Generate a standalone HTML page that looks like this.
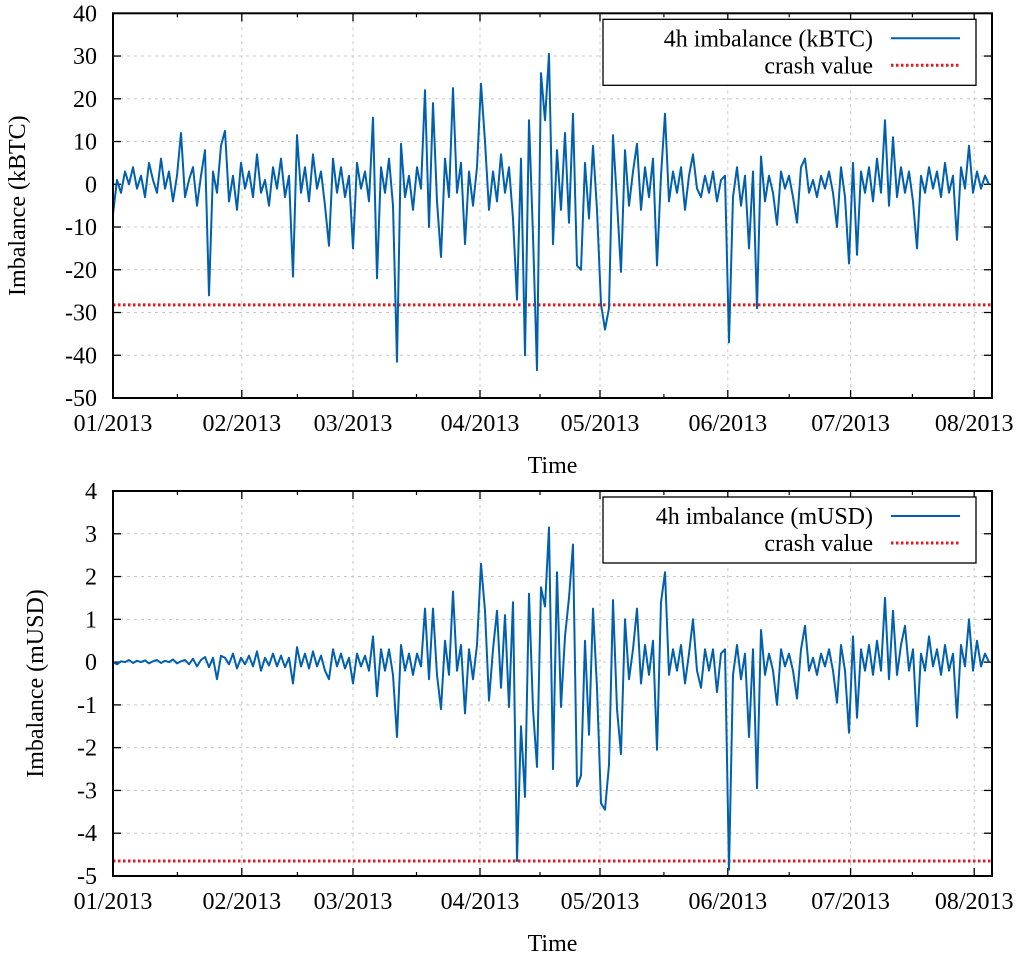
<!DOCTYPE html>
<html><head><meta charset="utf-8">
<style>
html,body{margin:0;padding:0;background:#fff;}
svg{display:block;font-family:"Liberation Serif",serif;}
</style></head>
<body>
<svg id="fig" width="1024" height="956" viewBox="0 0 1024 956" xmlns="http://www.w3.org/2000/svg"></svg>
<script>
// ---- data ----
const tickDays = [0, 32.2, 60, 91.75, 121.75, 153.7, 184.4, 215.3];
const tickLabels = ["01/2013","02/2013","03/2013","04/2013","05/2013","06/2013","07/2013","08/2013"];
const topYTicks = [40,30,20,10,0,-10,-20,-30,-40,-50];
const botYTicks = [4,3,2,1,0,-1,-2,-3,-4,-5];
const crashBTC = -28.2;
const crashUSD = -4.65;
const imbalanceBTC = [
-7,1,-2,3,0,4,-1,2,-3,5,
1,-2,6,-1,3,-4,2,12,-3,1,
4,-5,2,8,-26,3,-2,9,12.5,-4,
2,-6,5,-1,3,-3,7,-2,1,-5,
4,-1,6,-3,2,-21.6,11.5,-2,4,-4,
7,-1,3,-5,-14.4,6,-2,4,-3,2,
-15,5,-1,3,-4,15.6,-22,4,-2,6,
-5,-41.5,9.5,-3,2,-6,4,-1,22,-10,
19,-4,-17,6,-3,22.5,-2,5,-14,3,
-5,4,23.5,10,-6,3,-4,7,-2,4,
-8,-27,6,-40,15,-12,-43.5,26,15,30.5,
-14,8,-6,12,-9,16.5,-19,-20,5,-8,
9,-6,-28,-34,-29,11.5,-4,-20.5,8,-5,
3,9.5,-6,4,-3,6,-19,2,16.5,-4,
3,-2,4,-6,2,7,-1,-3,2,-2,
3,-4,1,2,-37,-3,4,-5,2,-15,
3,-29,6.5,-4,2,-2,-9.5,3,-1,2,
-3,-9,4,6,-2,1,-3,2,-1,3,
-2,-10,4,-3,-18.5,5,-16.5,3,-2,4,
-4,6,-2,15,-5,11,-3,4,-2,3,
-4,-15,2,-2,4,-1,3,-3,5,-2,
2,-13,4,-1,9,-2,3,-1,2,0];
const imbalanceUSD = [
0,-0.05,0.02,0,0.05,-0.02,0.03,0,0.04,-0.03,
0.02,0.05,-0.02,0.03,0,0.06,-0.03,0.02,0.05,-0.05,
0.08,-0.1,0.05,0.12,-0.12,0.1,-0.4,0.15,0.1,-0.05,
0.2,-0.15,0.1,-0.05,0.15,-0.1,0.25,-0.2,0.1,-0.08,
0.2,-0.1,0.15,-0.12,0.1,-0.5,0.35,-0.1,0.2,-0.15,
0.25,-0.1,0.15,-0.2,-0.4,0.3,-0.1,0.2,-0.15,0.1,
-0.5,0.2,-0.1,0.15,-0.2,0.6,-0.8,0.3,-0.2,0.3,
-0.3,-1.75,0.4,-0.2,0.2,-0.3,0.2,-0.1,1.25,-0.4,
1.25,-0.3,-1.1,0.5,-0.3,1.65,-0.2,0.4,-1.2,0.3,
-0.4,0.4,2.3,1.2,-0.9,0.3,1.2,-0.6,1.1,-1.05,
1.4,-4.65,-1.5,-3.15,1.6,-1.1,-2.45,1.75,1.3,3.15,
-2.5,2.1,-1.05,0.6,1.5,2.75,-2.9,-2.65,0.5,-1.7,
1.25,-0.6,-3.3,-3.45,-2.4,1.45,-1.1,-2.15,1.0,-0.4,
0.3,1.25,-0.5,0.4,-0.3,0.5,-2.05,1.4,2.1,-0.3,
0.3,-0.2,0.4,-0.5,0.2,1.0,-0.2,-0.6,0.3,-0.2,
0.3,-0.7,0.2,0.3,-4.85,-0.3,0.4,-0.4,0.2,-1.75,
0.3,-2.95,0.75,-0.3,0.2,-0.2,-1.0,0.3,-0.1,0.2,
-0.2,-0.85,0.3,0.85,-0.2,0.1,-0.3,0.2,-0.1,0.3,
-0.2,-0.95,0.4,-0.2,-1.65,0.6,-1.3,0.3,-0.2,0.4,
-0.3,0.5,-0.2,1.5,-0.4,1.2,-0.3,0.4,0.85,-0.2,
0.3,-1.5,0.2,-0.2,0.6,-0.1,0.3,-0.3,0.4,-0.2,
0.2,-1.3,0.4,-0.1,1.0,-0.2,0.5,-0.1,0.2,0];

const NS = "http://www.w3.org/2000/svg";
const svg = document.getElementById("fig");
function mk(tag, attrs, parent) {
  const e = document.createElementNS(NS, tag);
  for (const k in attrs) e.setAttribute(k, attrs[k]);
  (parent || svg).appendChild(e);
  return e;
}

function drawPanel(p) {
  const g = mk("g", {});
  
  
  const L = 113, R = 992, T = p.top, B = p.bottom;
  const dayMax = 219.75;
  const xs = d => L + (d / dayMax) * (R - L);
  const ys = v => T + (p.ymax - v) / (p.ymax - p.ymin) * (B - T);

  // grid
  p.yTicks.forEach(v => {
    const y = ys(v);
    if (v !== p.ymax && v !== p.ymin) {
      const gl = mk("line", {x1:L, x2:R, y1:y, y2:y, stroke:"#c8c8c8", "stroke-width":1, "stroke-dasharray":"3,4"}, g);
      
      
    }
    const t1 = mk("line", {x1:L, x2:L+8, y1:y, y2:y, stroke:"#000", "stroke-width":1.3}, g);
    
    
    const t2 = mk("line", {x1:R-8, x2:R, y1:y, y2:y, stroke:"#000", "stroke-width":1.3}, g);
    
    
    const lb = mk("text", {x:97, y:y+8, "text-anchor":"end", "font-size":24}, g);
    lb.textContent = String(v);
    
    
  });
  tickDays.forEach((d, i) => {
    const x = xs(d);
    if (i > 0) {
      const gl = mk("line", {x1:x, x2:x, y1:T, y2:B, stroke:"#c8c8c8", "stroke-width":1, "stroke-dasharray":"3,4"}, g);
      
      
    }
    const t1 = mk("line", {x1:x, x2:x, y1:B-8, y2:B, stroke:"#000", "stroke-width":1.3}, g);
    
    
    const t2 = mk("line", {x1:x, x2:x, y1:T, y2:T+8, stroke:"#000", "stroke-width":1.3}, g);
    
    
    if (i < tickDays.length - 1) {
      const xm = xs((d + tickDays[i+1]) / 2);
      const m1 = mk("line", {x1:xm, x2:xm, y1:B-4, y2:B, stroke:"#000", "stroke-width":1.2}, g);
      
      
      const m2 = mk("line", {x1:xm, x2:xm, y1:T, y2:T+4, stroke:"#000", "stroke-width":1.2}, g);
      
      
    }
    const lb = mk("text", {x:x, y:B+33, "text-anchor":"middle", "font-size":24}, g);
    lb.textContent = tickLabels[i];
    
    
  });

  // crash line
  const cl = mk("line", {x1:L, x2:R, y1:ys(p.crash), y2:ys(p.crash), stroke:"#e41a1c", "stroke-width":3, "stroke-dasharray":"2.5,2.5"}, g);
  
  

  // series
  const pts = p.values.map((v, i) => xs(i).toFixed(1) + "," + ys(v).toFixed(1)).join(" ");
  const pl = mk("polyline", {points:pts, fill:"none", stroke:"#0060ad", "stroke-width":2, "stroke-linejoin":"round"}, g);
  
  

  // frame
  const fr = mk("rect", {x:L, y:T, width:R-L, height:B-T, fill:"none", stroke:"#000", "stroke-width":2}, g);
  
  

  // legend
  const lg = mk("g", {}, g);
  
  
  const lr = mk("rect", {x:603, y:T+6, width:373, height:66, fill:"#fff", stroke:"#000", "stroke-width":1.3}, lg);
  
  
  const e1 = mk("text", {x:873, y:T+33, "text-anchor":"end", "font-size":24}, lg);
  e1.textContent = p.legend;
  
  
  const s1 = mk("line", {x1:891, x2:960, y1:T+25, y2:T+25, stroke:"#0060ad", "stroke-width":2}, lg);
  
  
  const e2 = mk("text", {x:873, y:T+60, "text-anchor":"end", "font-size":24}, lg);
  e2.textContent = "crash value";
  
  
  const s2 = mk("line", {x1:891, x2:960, y1:T+52, y2:T+52, stroke:"#e41a1c", "stroke-width":3, "stroke-dasharray":"2.5,2.5"}, lg);
  
  

  // axis titles
  const xt = mk("text", {x:(L+R)/2, y:B+75, "text-anchor":"middle", "font-size":24}, g);
  xt.textContent = "Time";
  
  
  const cy = (T+B)/2;
  const yt = mk("text", {x:p.titleX, y:cy, "text-anchor":"middle", "font-size":24, transform:"rotate(-90 "+p.titleX+" "+cy+")"}, g);
  yt.textContent = p.ytitle;
  
  
}

drawPanel({name:"panel-kbtc", top:13.3, bottom:398, ymax:40, ymin:-50, yTicks:topYTicks,
  values:imbalanceBTC, crash:crashBTC, legend:"4h imbalance (kBTC)", ytitle:"Imbalance (kBTC)", titleX:25});
drawPanel({name:"panel-musd", top:491, bottom:876, ymax:4, ymin:-5, yTicks:botYTicks,
  values:imbalanceUSD, crash:crashUSD, legend:"4h imbalance (mUSD)", ytitle:"Imbalance (mUSD)", titleX:43});
</script>
</body></html>
